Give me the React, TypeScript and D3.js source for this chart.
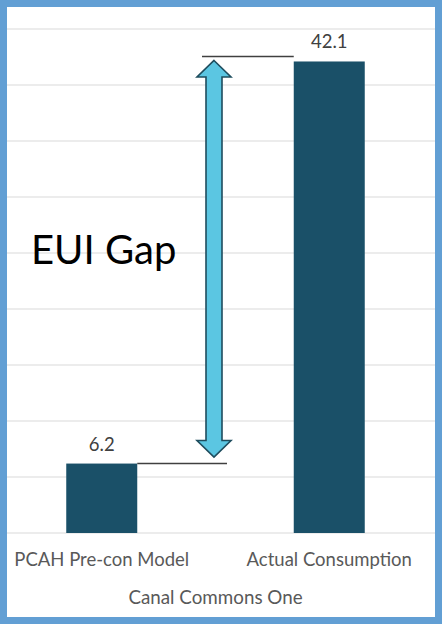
import React from "react";
import * as d3 from "d3";

const categories = ["PCAH Pre-con Model", "Actual Consumption"];
const values = [6.2, 42.1];
const valueLabels = ["6.2", "42.1"];
const groupLabel = "Canal Commons One";
const annotation = "EUI Gap";
const yTicks = [0, 5, 10, 15, 20, 25, 30, 35, 40, 45];

const W = 442;
const H = 624;
const FONT = "Lato, 'Open Sans', sans-serif";

export default function App() {
  const y = d3.scaleLinear().domain([0, 45]).range([533, 29]);
  const x = d3.scalePoint<string>().domain(categories).range([-12, 443]).padding(0.5);
  const barW = 71;

  const lowTop = y(values[0]);
  const highTop = y(values[1]);
  const arrowX = 214;
  const shaftHalf = 8;
  const headHalf = 17;
  const headLen = 16.5;
  const tipTop = highTop - 1;
  const tipBot = lowTop - 6.5;

  const arrowPath = [
    [arrowX, tipTop],
    [arrowX + headHalf, tipTop + headLen],
    [arrowX + shaftHalf, tipTop + headLen],
    [arrowX + shaftHalf, tipBot - headLen],
    [arrowX + headHalf, tipBot - headLen],
    [arrowX, tipBot],
    [arrowX - headHalf, tipBot - headLen],
    [arrowX - shaftHalf, tipBot - headLen],
    [arrowX - shaftHalf, tipTop + headLen],
    [arrowX - headHalf, tipTop + headLen],
  ];
  const line = d3.line();

  const x0 = x(categories[0])!;
  const x1 = x(categories[1])!;

  return (
    <svg width={W} height={H} style={{ position: "absolute", left: 0, top: 0 }} fontFamily={FONT}>
      <rect x={0} y={0} width={W} height={H} fill="#629fd4" />
      <rect x={7} y={7} width={428} height={610} fill="#ffffff" />
      {yTicks.map((t) => (
        <line key={t} x1={7} x2={435} y1={y(t)} y2={y(t)} stroke="#d9d9d9" strokeWidth={1.2} />
      ))}
      {categories.map((c, i) => (
        <rect key={c} x={x(c)! - barW / 2} y={y(values[i])} width={barW} height={y(0) - y(values[i])} fill="#1a5068" />
      ))}
      {categories.map((c, i) => (
        <text key={"v" + c} x={x(c)!} y={y(values[i]) - 13} textAnchor="middle" fontSize={18.5} fill="#404040">
          {valueLabels[i]}
        </text>
      ))}
      {categories.map((c) => (
        <text key={"c" + c} x={x(c)!} y={566} textAnchor="middle" fontSize={18.5} fill="#595959">
          {c}
        </text>
      ))}
      <text x={(x0 + x1) / 2} y={604} textAnchor="middle" fontSize={18.8} fill="#595959">
        {groupLabel}
      </text>
      <line x1={x0 + barW / 2} x2={227} y1={lowTop} y2={lowTop} stroke="#404040" strokeWidth={1.5} />
      <line x1={202} x2={x1 - barW / 2} y1={highTop - 5} y2={highTop - 5} stroke="#404040" strokeWidth={1.5} />
      <path d={line(arrowPath as [number, number][])! + "Z"} fill="#5bc6e2" stroke="#1e4d5e" strokeWidth={1.6} strokeLinejoin="miter" />
      <text x={31} y={264} fontSize={40} fill="#000000">
        {annotation}
      </text>
    </svg>
  );
}
